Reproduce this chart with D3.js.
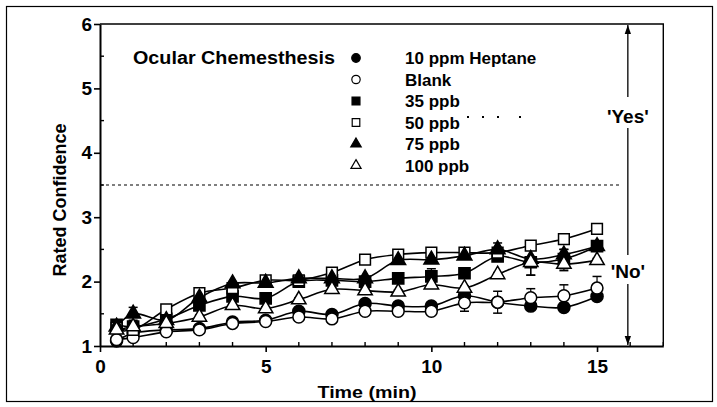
<!DOCTYPE html>
<html><head><meta charset="utf-8">
<script src="https://cdn.jsdelivr.net/npm/d3@7"></script>
<style>body{margin:0;background:#fff}svg{display:block}text{font-family:"Liberation Sans",Arial,sans-serif;font-weight:bold;fill:#000}</style>
</head><body>
<script>
const times = [0.5,1,2,3,4,5,6,7,8,9,10,11,12,13,14,15];
const seriesNames = ["10 ppm Heptane","Blank","35 ppb","50 ppb","75 ppb","100 ppb"];
const heptane = [1.08,1.20,1.25,1.27,1.37,1.40,1.54,1.49,1.66,1.62,1.62,1.78,1.68,1.62,1.60,1.77];
const blank   = [1.10,1.13,1.22,1.25,1.35,1.38,1.45,1.42,1.54,1.54,1.54,1.67,1.68,1.75,1.78,1.90];
const ppb35   = [1.33,1.30,1.42,1.63,1.77,1.74,2.00,2.02,2.00,2.05,2.08,2.13,2.39,2.30,2.35,2.55];
const ppb50   = [1.28,1.25,1.57,1.82,1.90,2.02,2.02,2.14,2.34,2.42,2.45,2.45,2.45,2.56,2.66,2.82];
const ppb75   = [1.30,1.50,1.40,1.75,1.97,1.98,2.05,2.05,2.05,2.33,2.34,2.40,2.50,2.35,2.42,2.55];
const ppb100  = [1.25,1.30,1.35,1.45,1.63,1.58,1.72,1.88,1.86,1.84,1.95,1.90,2.11,2.30,2.27,2.33];
const heptaneErr = [0.03,0.03,0.03,0.03,0.03,0.03,0.03,0.03,0.03,0.03,0.03,0.03,0.03,0.03,0.03,0.03];
const blankErr   = [0.03,0.03,0.03,0.03,0.03,0.03,0.03,0.03,0.03,0.03,0.03,0.13,0.17,0.14,0.17,0.18];
const ppb35Err   = [0.03,0.03,0.03,0.03,0.03,0.03,0.03,0.03,0.03,0.03,0.12,0.03,0.03,0.20,0.15,0.03];
const ppb50Err   = [0.03,0.03,0.03,0.03,0.03,0.03,0.03,0.03,0.03,0.03,0.03,0.03,0.03,0.03,0.03,0.03];
const ppb75Err   = [0.03,0.10,0.03,0.03,0.03,0.03,0.03,0.03,0.03,0.03,0.03,0.03,0.10,0.03,0.08,0.03];
const ppb100Err  = [0.03,0.03,0.03,0.03,0.03,0.03,0.03,0.03,0.03,0.03,0.03,0.03,0.03,0.20,0.10,0.03];
const xTicks = [0,5,10,15];
const yTicks = [1,2,3,4,5,6];
const threshold = 3.5;
const titleText = "Ocular Chemesthesis";
const xTitle = "Time (min)";
const yTitle = "Rated Confidence";

const W = 717, H = 407;
const svg = d3.select("body").append("svg").attr("width", W).attr("height", H);
svg.append("rect").attr("x",6.5).attr("y",6.5).attr("width",706).attr("height",395)
  .attr("fill","none").attr("stroke","#000").attr("stroke-width",1.2);

const x = d3.scaleLinear().domain([0,17]).range([100,663.3]);
const y = d3.scaleLinear().domain([1,6]).range([346,24]);

svg.append("path").attr("d",`M${x(0)},${y(6)}H${x(17)}V${y(1)}`).attr("fill","none").attr("stroke","#000").attr("stroke-width",1.4);

const gx = svg.append("g").attr("transform",`translate(0,${y(1)})`);
gx.call(d3.axisBottom(x).tickValues(xTicks).tickSize(6).tickSizeOuter(0).tickFormat(d3.format("d")));
gx.select(".domain").attr("stroke-width",2);
gx.selectAll(".tick line").attr("stroke-width",1.6);
gx.selectAll(".tick text").attr("font-size",19).attr("dy","0.95em").attr("y",9);
const minorX = d3.range(0,18).filter(v=>v%5!==0);
gx.selectAll(".mx").data(minorX).join("line").attr("class","mx")
  .attr("x1",d=>x(d)).attr("x2",d=>x(d)).attr("y1",0).attr("y2",-4).attr("stroke","#000").attr("stroke-width",1.4);

const gy = svg.append("g").attr("transform",`translate(${x(0)},0)`);
gy.call(d3.axisLeft(y).tickValues(yTicks).tickSize(6).tickSizeOuter(0).tickFormat(d3.format("d")));
gy.select(".domain").attr("stroke-width",2);
gy.selectAll(".tick line").attr("stroke-width",1.6);
gy.selectAll(".tick text").attr("font-size",19).attr("x",-8);
const minorY = [1.5,2.5,3.5,4.5,5.5];
gy.selectAll(".my").data(minorY).join("line").attr("class","my")
  .attr("x1",0).attr("x2",4).attr("y1",d=>y(d)).attr("y2",d=>y(d)).attr("stroke","#000").attr("stroke-width",1.4);
svg.selectAll(".domain, .tick line").attr("stroke","#000");

svg.append("text").attr("x",367).attr("y",398).attr("text-anchor","middle").attr("font-size",17).attr("textLength",99).attr("lengthAdjust","spacingAndGlyphs").text(xTitle);
svg.append("text").attr("transform","translate(66,200) rotate(-90)").attr("text-anchor","middle").attr("font-size",18).text(yTitle);

svg.append("line").attr("x1",x(0)).attr("x2",x(15.75)).attr("y1",y(threshold)).attr("y2",y(threshold))
  .attr("stroke","#000").attr("stroke-width",1.1).attr("stroke-dasharray","3,3");

const ax = x(15.93);
svg.append("defs").html('<marker id="ah" viewBox="0 0 10 10" refX="10" refY="5" markerWidth="7" markerHeight="9" orient="auto"><path d="M0,1.5L10,5L0,8.5Z" fill="#000"/></marker>');
svg.append("line").attr("x1",ax).attr("x2",ax).attr("y1",97).attr("y2",y(6)+1).attr("stroke","#000").attr("stroke-width",1.3).attr("marker-end","url(#ah)");
svg.append("line").attr("x1",ax).attr("x2",ax).attr("y1",128).attr("y2",255).attr("stroke","#000").attr("stroke-width",1.3);
svg.append("line").attr("x1",ax).attr("x2",ax).attr("y1",284).attr("y2",y(1)-1).attr("stroke","#000").attr("stroke-width",1.3).attr("marker-end","url(#ah)");
svg.append("text").attr("x",ax).attr("y",123).attr("text-anchor","middle").attr("font-size",19).text("'Yes'");
svg.append("text").attr("x",ax).attr("y",278).attr("text-anchor","middle").attr("font-size",19).text("'No'");

const sym = [
  {shape:d3.symbolCircle, fill:"#000", size:115},
  {shape:d3.symbolCircle, fill:"#fff", size:110},
  {shape:d3.symbolSquare, fill:"#000", size:125},
  {shape:d3.symbolSquare, fill:"#fff", size:115},
  {shape:d3.symbolTriangle, fill:"#000", size:95},
  {shape:d3.symbolTriangle, fill:"#fff", size:90}
];
const allSeries = [heptane, blank, ppb35, ppb50, ppb75, ppb100];
const allErr = [heptaneErr, blankErr, ppb35Err, ppb50Err, ppb75Err, ppb100Err];

const line = d3.line().x((d,i)=>x(times[i])).y(d=>y(d)).curve(d3.curveCatmullRom.alpha(0.5));
const plot = svg.append("g");
allSeries.forEach((s,k)=>{
  const g = plot.append("g");
  s.forEach((v,i)=>{
    const e = allErr[k][i], cx = x(times[i]);
    g.append("line").attr("x1",cx).attr("x2",cx).attr("y1",y(v-e)).attr("y2",y(v+e)).attr("stroke","#000").attr("stroke-width",1.2);
    [v-e,v+e].forEach(t=>g.append("line").attr("x1",cx-4.5).attr("x2",cx+4.5).attr("y1",y(t)).attr("y2",y(t)).attr("stroke","#000").attr("stroke-width",1.5));
  });
});
allSeries.forEach((s,k)=>{
  plot.append("path").datum(s).attr("d",line).attr("fill","none").attr("stroke","#000").attr("stroke-width",1.6);
});
allSeries.forEach((s,k)=>{
  const sy = sym[k];
  plot.append("g").selectAll("path").data(s).join("path")
    .attr("transform",(d,i)=>`translate(${x(times[i])},${y(d)})`)
    .attr("d",d3.symbol().type(sy.shape).size(sy.size))
    .attr("fill",sy.fill).attr("stroke","#000").attr("stroke-width",1.5);
});

svg.append("text").attr("x",133).attr("y",64).attr("font-size",18).attr("textLength",202).attr("lengthAdjust","spacingAndGlyphs").text(titleText);
const legY = [58,79.5,101,122.5,144,165.5];
seriesNames.forEach((n,k)=>{
  const sy = sym[k];
  svg.append("path").attr("transform",`translate(356,${legY[k]})`)
    .attr("d",d3.symbol().type(sy.shape).size(sy.size*0.5))
    .attr("fill",sy.fill).attr("stroke","#000").attr("stroke-width",1.2);
  svg.append("text").attr("x",405).attr("y",legY[k]+6).attr("font-size",17).text(n);
});
svg.selectAll(".dot").data([468,483,498,520]).join("rect").attr("class","dot")
  .attr("x",d=>d-1).attr("y",116).attr("width",2).attr("height",2).attr("fill","#000");
</script>
</body></html>
